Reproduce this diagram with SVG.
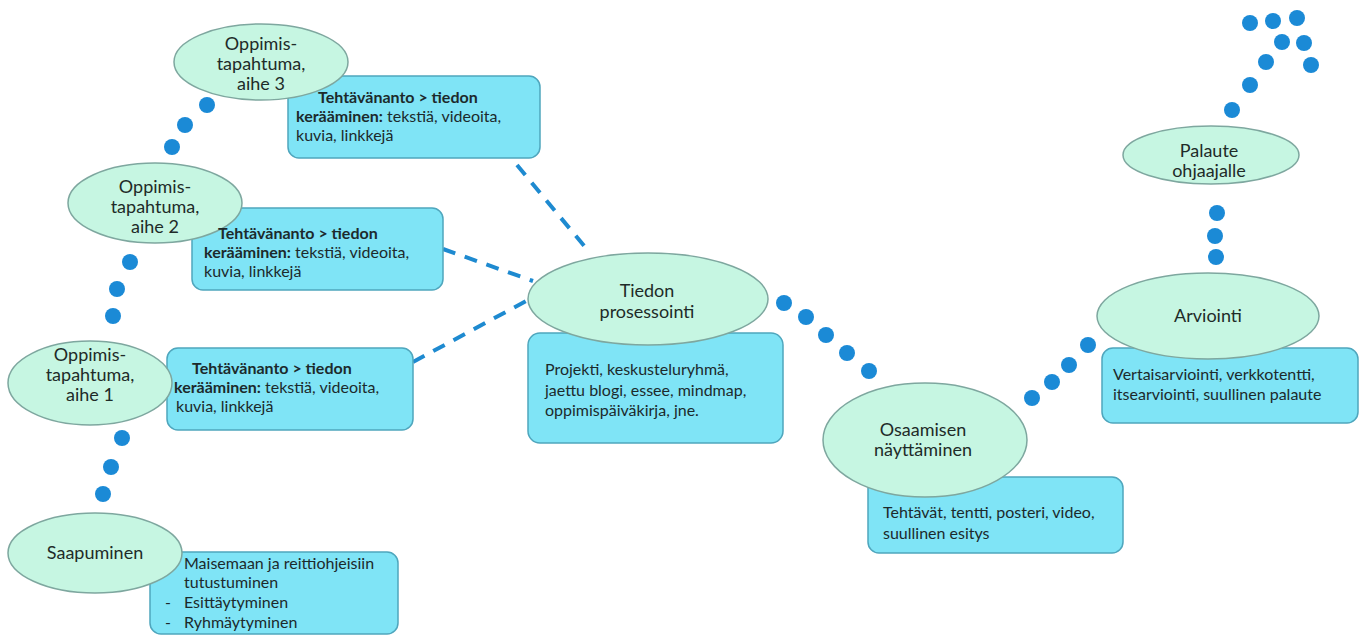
<svg xmlns="http://www.w3.org/2000/svg" width="1365" height="635" viewBox="0 0 1365 635">
<defs>
<style>
.ell{fill:#c6f6e2;stroke:#7ea79f;stroke-width:1.5}
.box{fill:#7fe4f6;stroke:#4fa6bd;stroke-width:1.5}
.dot{fill:#1b8ad6}
.dash{stroke:#1e8ad0;stroke-width:4;stroke-dasharray:13 10;fill:none}
.et{font-family:Lato,"Open Sans",sans-serif;font-size:18px;fill:#1e2b28;text-anchor:middle}
.bt{font-family:Lato,"Open Sans",sans-serif;font-size:16px;fill:#1c2a2c}
.b{font-weight:bold}
</style>
</defs>
<rect width="1365" height="635" fill="#ffffff"/>
<g id="connectors">
<line class="dash" x1="517" y1="165" x2="590" y2="253"/>
<line class="dash" x1="443" y1="249" x2="533" y2="281"/>
<line class="dash" x1="413" y1="362" x2="528" y2="300"/>
<circle class="dot" cx="207" cy="105" r="8"/>
<circle class="dot" cx="185" cy="125" r="8"/>
<circle class="dot" cx="172" cy="147" r="8"/>
<circle class="dot" cx="130" cy="262" r="8"/>
<circle class="dot" cx="117" cy="289" r="8"/>
<circle class="dot" cx="113" cy="316" r="8"/>
<circle class="dot" cx="122" cy="438" r="8"/>
<circle class="dot" cx="111" cy="467" r="8"/>
<circle class="dot" cx="103" cy="494" r="8"/>
<circle class="dot" cx="784" cy="303" r="8"/>
<circle class="dot" cx="806" cy="317" r="8"/>
<circle class="dot" cx="826" cy="335" r="8"/>
<circle class="dot" cx="847" cy="353" r="8"/>
<circle class="dot" cx="869" cy="371" r="8"/>
<circle class="dot" cx="1032" cy="398" r="8"/>
<circle class="dot" cx="1052" cy="382" r="8"/>
<circle class="dot" cx="1069" cy="365" r="8"/>
<circle class="dot" cx="1088" cy="345" r="8"/>
<circle class="dot" cx="1217" cy="213" r="8"/>
<circle class="dot" cx="1215" cy="236" r="8"/>
<circle class="dot" cx="1216" cy="257" r="8"/>
<circle class="dot" cx="1232" cy="110" r="8"/>
<circle class="dot" cx="1250" cy="85" r="8"/>
<circle class="dot" cx="1266" cy="62" r="8"/>
<circle class="dot" cx="1250" cy="23" r="8"/>
<circle class="dot" cx="1273" cy="21" r="8"/>
<circle class="dot" cx="1297" cy="18" r="8"/>
<circle class="dot" cx="1282" cy="42" r="8"/>
<circle class="dot" cx="1304" cy="43" r="8"/>
<circle class="dot" cx="1311" cy="65" r="8"/>
</g>
<g id="aihe3">
<rect class="box" x="288" y="76" width="252" height="82" rx="11"/>
<ellipse class="ell" cx="261" cy="62" rx="87" ry="38"/>
<text class="et" x="261" y="50">Oppimis-</text>
<text class="et" x="261" y="70">tapahtuma,</text>
<text class="et" x="261" y="90">aihe 3</text>
<text class="bt b" x="318" y="103">Tehtävänanto &gt; tiedon</text>
<text class="bt" x="296" y="122"><tspan class="b">kerääminen:</tspan> tekstiä, videoita,</text>
<text class="bt" x="296" y="141">kuvia, linkkejä</text>
</g>
<g id="aihe2">
<rect class="box" x="192" y="208" width="251" height="82" rx="11"/>
<ellipse class="ell" cx="155" cy="203" rx="87" ry="40"/>
<text class="et" x="155" y="193">Oppimis-</text>
<text class="et" x="155" y="213">tapahtuma,</text>
<text class="et" x="155" y="233">aihe 2</text>
<text class="bt b" x="218" y="239">Tehtävänanto &gt; tiedon</text>
<text class="bt" x="204" y="258"><tspan class="b">kerääminen:</tspan> tekstiä, videoita,</text>
<text class="bt" x="204" y="277">kuvia, linkkejä</text>
</g>
<g id="aihe1">
<rect class="box" x="167" y="348" width="246" height="82" rx="11"/>
<ellipse class="ell" cx="90" cy="383" rx="82" ry="42"/>
<text class="et" x="90" y="361">Oppimis-</text>
<text class="et" x="90" y="381">tapahtuma,</text>
<text class="et" x="90" y="401">aihe 1</text>
<text class="bt b" x="192" y="374">Tehtävänanto &gt; tiedon</text>
<text class="bt" x="174" y="393"><tspan class="b">kerääminen:</tspan>  tekstiä, videoita,</text>
<text class="bt" x="176" y="412">kuvia, linkkejä</text>
</g>
<g id="saapuminen">
<rect class="box" x="150" y="552" width="248" height="82" rx="11"/>
<ellipse class="ell" cx="95" cy="553" rx="87" ry="40"/>
<text class="et" x="95" y="559">Saapuminen</text>
<text class="bt" x="184" y="569">Maisemaan ja reittiohjeisiin</text>
<text class="bt" x="184" y="588">tutustuminen</text>
<text class="bt" x="165" y="608">-</text>
<text class="bt" x="184" y="608">Esittäytyminen</text>
<text class="bt" x="165" y="628">-</text>
<text class="bt" x="184" y="628">Ryhmäytyminen</text>
</g>
<g id="tiedon">
<rect class="box" x="528" y="333" width="255" height="110" rx="12"/>
<ellipse class="ell" cx="648" cy="299" rx="120" ry="46"/>
<text class="et" x="647" y="297">Tiedon</text>
<text class="et" x="647" y="318">prosessointi</text>
<text class="bt" x="545" y="375">Projekti, keskusteluryhmä,</text>
<text class="bt" x="545" y="396">jaettu blogi, essee, mindmap,</text>
<text class="bt" x="545" y="416">oppimispäiväkirja, jne.</text>
</g>
<g id="osaamisen">
<rect class="box" x="868" y="477" width="255" height="76" rx="11"/>
<ellipse class="ell" cx="925" cy="440" rx="102" ry="57"/>
<text class="et" x="923" y="436">Osaamisen</text>
<text class="et" x="923" y="456">näyttäminen</text>
<text class="bt" x="883" y="518">Tehtävät, tentti, posteri, video,</text>
<text class="bt" x="883" y="539">suullinen esitys</text>
</g>
<g id="arviointi">
<rect class="box" x="1102" y="348" width="256" height="75" rx="11"/>
<ellipse class="ell" cx="1208" cy="316" rx="111" ry="43"/>
<text class="et" x="1208" y="322">Arviointi</text>
<text class="bt" x="1113" y="380">Vertaisarviointi, verkkotentti,</text>
<text class="bt" x="1113" y="400">itsearviointi, suullinen palaute</text>
</g>
<g id="palaute">
<ellipse class="ell" cx="1211" cy="155" rx="88" ry="29"/>
<text class="et" x="1209" y="157">Palaute</text>
<text class="et" x="1209" y="177">ohjaajalle</text>
</g>
</svg>
